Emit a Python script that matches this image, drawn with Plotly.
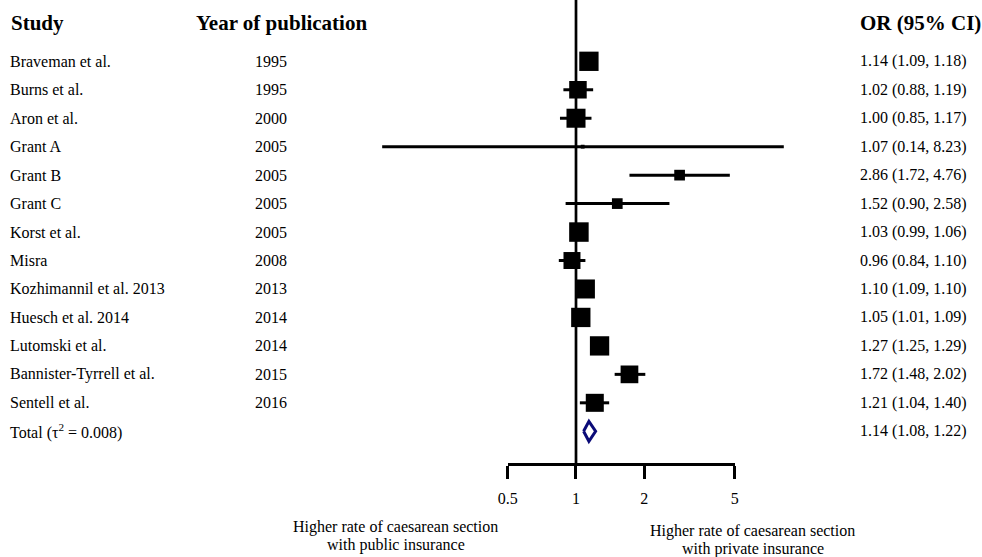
import math
import plotly.graph_objects as go

# Study-level odds ratios (private vs public insurance) with 95% CIs
studies = ["Braveman et al.", "Burns et al.", "Aron et al.", "Grant A", "Grant B",
           "Grant C", "Korst et al.", "Misra", "Kozhimannil et al. 2013",
           "Huesch et al. 2014", "Lutomski et al.", "Bannister-Tyrrell et al.",
           "Sentell et al."]
years = ["1995", "1995", "2000", "2005", "2005", "2005", "2005", "2008",
         "2013", "2014", "2014", "2015", "2016"]
odds_ratio = [1.14, 1.02, 1.00, 1.07, 2.86, 1.52, 1.03, 0.96, 1.10, 1.05, 1.27, 1.72, 1.21]
ci_low = [1.09, 0.88, 0.85, 0.14, 1.72, 0.90, 0.99, 0.84, 1.09, 1.01, 1.25, 1.48, 1.04]
ci_high = [1.18, 1.19, 1.17, 8.23, 4.76, 2.58, 1.06, 1.10, 1.10, 1.09, 1.29, 2.02, 1.40]
weight_pct = [10.1, 8.3, 9.8, 0.4, 3.1, 3.1, 10.3, 7.8, 9.8, 10.1, 10.1, 8.5, 8.8]

# Pooled estimate
total_label = "Total (τ<sup>2</sup> = 0.008)"
total_or, total_low, total_high = 1.14, 1.08, 1.22

# Axis ticks
tick_vals = [0.5, 1, 2, 5]
tick_text = ["0.5", "1", "2", "5"]

W, H = 982, 557
PX_PER_DECADE = 227.0
X_ONE = 576.0            # pixel column of OR = 1
ROW0, ROW_STEP = 61.3, 28.46
AXIS_Y = 464.0
FONT = "Liberation Serif, Times New Roman, serif"

x_range = [-X_ONE / PX_PER_DECADE, (W - X_ONE) / PX_PER_DECADE]
y_range = [(H - ROW0) / ROW_STEP, -ROW0 / ROW_STEP]

rows = list(range(len(studies)))
total_row = len(studies)

fig = go.Figure()

# Confidence interval whiskers
cx, cy = [], []
for r, lo, hi in zip(rows, ci_low, ci_high):
    cx += [lo, hi, None]
    cy += [r, r, None]
fig.add_trace(go.Scatter(x=cx, y=cy, mode="lines",
                         line=dict(color="black", width=3),
                         hoverinfo="skip", showlegend=False))

# Point estimates, box area proportional to study weight
sizes = [math.sqrt(w * 36.94) for w in weight_pct]
fig.add_trace(go.Scatter(x=odds_ratio, y=rows, mode="markers",
                         marker=dict(symbol="square", size=sizes, color="black",
                                     opacity=1, line=dict(width=0)),
                         showlegend=False))

# Pooled estimate diamond
half_h = 0.35
fig.add_trace(go.Scatter(
    x=[total_low, total_or, total_high, total_or, total_low],
    y=[total_row, total_row - half_h, total_row, total_row + half_h, total_row],
    mode="lines", fill="toself", fillcolor="white",
    line=dict(color="#0b0b78", width=3),
    hoverinfo="skip", showlegend=False))

# Invisible anchor trace for the scale axis
fig.add_trace(go.Scatter(x=[1], y=[0], xaxis="x2", yaxis="y", mode="markers",
                         marker=dict(opacity=0), hoverinfo="skip", showlegend=False))

# Line of no effect
fig.add_shape(type="line", xref="x", yref="paper", x0=1, x1=1,
              y0=1 - AXIS_Y / H, y1=1, line=dict(color="black", width=2.7))

ann = []


def text(x_px, y, s, size=16, bold=False, xanchor="left", yref="y"):
    ann.append(dict(x=x_px / W, xref="paper", y=y, yref=yref, text=f"<b>{s}</b>" if bold else s,
                    showarrow=False, xanchor=xanchor, yanchor="middle",
                    font=dict(family=FONT, size=size, color="black")))


header_row = (22.7 - ROW0) / ROW_STEP
text(9, header_row, "Study", size=21, bold=True)
text(194, header_row, "Year of publication", size=21, bold=True)
text(858, header_row, "OR (95% CI)", size=21, bold=True)

for r, name, yr, o, lo, hi in zip(rows, studies, years, odds_ratio, ci_low, ci_high):
    text(8, r, name)
    text(253, r, yr)
    text(858, r, f"{o:.2f} ({lo:.2f}, {hi:.2f})")

text(8, total_row, total_label)
text(858, total_row, f"{total_or:.2f} ({total_low:.2f}, {total_high:.2f})")

# Direction captions under the scale
text(395.5, 1 - 527 / H, "Higher rate of caesarean section", xanchor="center", yref="paper")
text(395.5, 1 - 545 / H, "with public insurance", xanchor="center", yref="paper")
text(752.5, 1 - 531 / H, "Higher rate of caesarean section", xanchor="center", yref="paper")
text(752.5, 1 - 549 / H, "with private insurance", xanchor="center", yref="paper")

x2_lo = X_ONE + PX_PER_DECADE * math.log10(min(tick_vals))
x2_hi = X_ONE + PX_PER_DECADE * math.log10(max(tick_vals))

fig.update_layout(
    width=W, height=H,
    margin=dict(l=0, r=0, t=0, b=0, autoexpand=False),
    paper_bgcolor="white", plot_bgcolor="rgba(0,0,0,0)",
    showlegend=False,
    annotations=ann,
    xaxis=dict(type="log", range=x_range, domain=[0, 1], visible=False, fixedrange=True),
    yaxis=dict(range=y_range, domain=[0, 1], visible=False, fixedrange=True),
    xaxis2=dict(type="log", range=[math.log10(min(tick_vals)), math.log10(max(tick_vals))],
                domain=[x2_lo / W, x2_hi / W], anchor="free", position=1 - AXIS_Y / H,
                showline=True, linecolor="black", linewidth=2.7,
                ticks="outside", ticklen=13, tickwidth=2.7, tickcolor="black",
                tickvals=tick_vals, ticktext=tick_text, showgrid=False, zeroline=False,
                tickfont=dict(family=FONT, size=16, color="black"),
                ticklabelstandoff=6, fixedrange=True),
)

fig.write_html("out.html")
